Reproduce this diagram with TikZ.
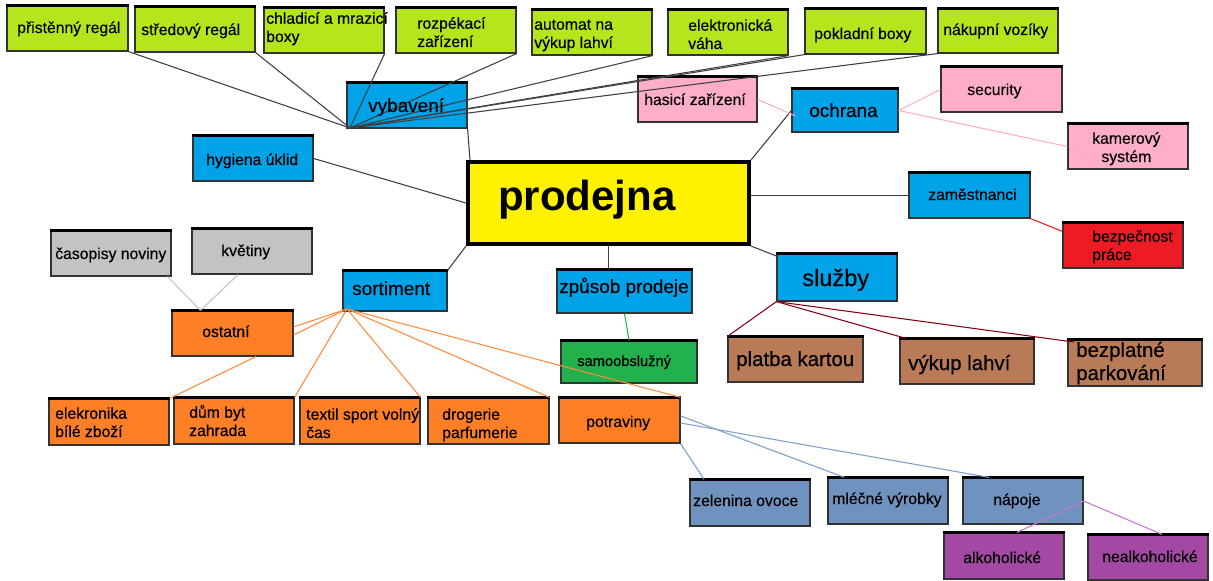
\documentclass[tikz,border=0pt]{standalone}
\usepackage{fontspec}
\setmainfont{Liberation Sans}
\newfontfamily\lf{Liberation Sans}[FakeBold=0.5]
\usetikzlibrary{calc}
\definecolor{cLime}{RGB}{181,230,29}
\definecolor{cBlue}{RGB}{0,162,232}
\definecolor{cYellow}{RGB}{255,242,0}
\definecolor{cPink}{RGB}{255,174,201}
\definecolor{cRed}{RGB}{237,28,36}
\definecolor{cGray}{RGB}{195,195,195}
\definecolor{cOrange}{RGB}{255,127,39}
\definecolor{cGreen}{RGB}{34,177,76}
\definecolor{cBrown}{RGB}{185,122,87}
\definecolor{cSteel}{RGB}{112,146,190}
\definecolor{cPurple}{RGB}{163,73,164}
\definecolor{lMaroon}{RGB}{136,0,21}
\definecolor{lPurple}{RGB}{195,120,205}
\definecolor{lBlue}{RGB}{125,160,205}
\definecolor{lOrange}{RGB}{255,140,60}
\newcommand\boxnode[6]{\node[box,fill=#2,minimum width={(#5-#3)*0.75pt},minimum height={(#6-#4)*0.75pt}] (#1) at ({(#3+#5)/2},{(#4+#6)/2}) {};}
\begin{document}
\begin{tikzpicture}[x=0.75pt,y=-0.75pt,
  box/.style={draw=black!80,line width=0.9pt,inner sep=0pt,rectangle,
    append after command={(\tikzlastnode.north west) edge[draw=black,line width=1.9pt] (\tikzlastnode.north east)}},
  lbl/.style={anchor=base west,inner sep=0pt,align=left,text=black,font=\lf\fontsize{11.8}{13.7}\selectfont},
  big/.style={font=\lf\fontsize{14.2}{17}\selectfont},
  bigger/.style={font=\lf\fontsize{15.3}{17.3}\selectfont},
  con/.style={line width=0.8pt}]
\useasboundingbox (0,0) rectangle (1213,581);
\fill[white] (0,0) rectangle (1213,581);
% top row
\boxnode{p1}{cLime}{7}{6}{128}{51}
\boxnode{p2}{cLime}{135}{7}{255}{52}
\boxnode{p3}{cLime}{264}{8}{384}{53}
\boxnode{p4}{cLime}{396}{8}{516}{53}
\boxnode{p5}{cLime}{532}{10}{652}{55}
\boxnode{p6}{cLime}{668}{10}{788}{55}
\boxnode{p7}{cLime}{805}{9}{926}{54}
\boxnode{p8}{cLime}{938}{9}{1058}{53}
% blue / centre
\boxnode{vyb}{cBlue}{347}{83}{467}{128}
\boxnode{hyg}{cBlue}{193}{136}{313}{181}
\boxnode{och}{cBlue}{792}{89}{898}{132}
\boxnode{zam}{cBlue}{909}{173}{1030}{218}
\boxnode{sor}{cBlue}{343}{271}{447}{311}
\boxnode{zpu}{cBlue}{557}{270}{692}{313}
\boxnode{slu}{cBlue}{777}{254}{897}{301}
\node[draw=black,line width=3pt,fill=cYellow,inner sep=0pt,minimum width={281*0.75pt},minimum height={82*0.75pt}] (prod) at (608.5,203) {};
% pink, red
\boxnode{has}{cPink}{638}{77}{757}{122}
\boxnode{sec}{cPink}{941}{67}{1062}{112}
\boxnode{kam}{cPink}{1068}{124}{1188}{169}
\boxnode{bez}{cRed}{1063}{223}{1183}{268}
% gray
\boxnode{cas}{cGray}{51}{231}{171}{276}
\boxnode{kve}{cGray}{192}{229}{312}{274}
% orange
\boxnode{ost}{cOrange}{172}{311}{293}{356}
\boxnode{ele}{cOrange}{49}{399}{169}{445}
\boxnode{dum}{cOrange}{174}{398}{294}{444}
\boxnode{tex}{cOrange}{300}{398}{420}{444}
\boxnode{dro}{cOrange}{428}{398}{549}{444}
\boxnode{pot}{cOrange}{559}{398}{680}{443}
% green, brown
\boxnode{sam}{cGreen}{561}{341}{697}{383}
\boxnode{pla}{cBrown}{728}{337}{863}{382}
\boxnode{vyk}{cBrown}{900}{339}{1034}{384}
\boxnode{bpk}{cBrown}{1068}{340}{1202}{386}
% steel, purple
\boxnode{zel}{cSteel}{690}{480}{810}{526}
\boxnode{mle}{cSteel}{828}{478}{948}{524}
\boxnode{nap}{cSteel}{963}{478}{1083}{524}
\boxnode{alk}{cPurple}{944}{533}{1064}{579}
\boxnode{nea}{cPurple}{1088}{535}{1208}{580}
% hubs
\coordinate (vhub) at (350,128);
\coordinate (shub) at (347,309);
% connectors: vybaveni
\begin{scope}[con,draw=black!75]
\draw (vhub) -- (p1.south east);
\draw (vhub) -- (p2.south east);
\draw (vhub) -- (p3.south east);
\draw (vhub) -- (p4.south east);
\draw (vhub) -- (p5.south east);
\draw (vhub) -- (p6.south east);
\draw (vhub) -- (p7.south west);
\draw (vhub) -- (p8.south west);
\draw (vyb.south east) -- ([xshift=3pt]prod.north west);
\draw (hyg.east) -- (prod.west);
\draw (prod.north east) -- (och.west);
\draw (prod.east |- zam.west) -- (zam.west);
\draw (prod.south east) -- ([yshift=-2pt]slu.north west);
\draw (prod.south) -- (prod.south |- zpu.north);
\draw (prod.south west) -- (sor.north east);
\end{scope}
\draw[con,cPink] (has.east) -- ([xshift=3pt,yshift=-4pt]och.west);
\draw[con,cPink] (och.east) -- (sec.west);
\draw[con,cPink] (och.east) -- (kam.west);
\draw[con,cRed] (zam.south east) -- ([yshift=-6.75pt]bez.north west);
\draw[con,cGreen] (zpu.south) -- (sam.north);
\draw[con,lMaroon] (slu.south west) -- (pla.north west);
\draw[con,lMaroon] (slu.south west) -- ([xshift=5pt]vyk.north west);
\draw[con,lMaroon] (slu.south west) -- ([xshift=5pt,yshift=-2pt]bpk.north west);
% orange
\draw[con,lOrange] (shub) -- ([yshift=4.9pt]ost.east);
\draw[con,lOrange] (shub) -- ([yshift=-1.1pt]ost.east);
\draw[con,lOrange] ([xshift=17.6pt]ost.south) -- (ele.north east);
\draw[con,lOrange] (shub) -- (dum.north east);
\draw[con,lOrange] (shub) -- (tex.north east);
\draw[con,lOrange] (shub) -- (dro.north east);
\draw[con,lOrange] (shub) -- (pot.north east);
% gray
\draw[con,cGray] ([xshift=-3pt]cas.south east) -- ([xshift=-24pt]ost.north);
\draw[con,cGray] ([xshift=-10.5pt]kve.south) -- ([xshift=-24pt]ost.north);
% blue
\draw[con,lBlue] (pot.south east) -- ([xshift=11pt]zel.north west);
\draw[con,lBlue] ([yshift=3.4pt]pot.east) -- ([xshift=12.75pt]mle.north west);
\draw[con,lBlue] ([yshift=-1.9pt]pot.east) -- ([xshift=20pt]nap.north west);
% purple
\draw[con,lPurple] (nap.east) -- ([xshift=9.75pt]alk.north);
\draw[con,lPurple] (nap.east) -- ([xshift=10.5pt]nea.north);
% labels (multi-line: anchored at the baseline of the last line)
\node[lbl] (t1) at (17,33) {přistěnný regál};
\node[lbl] (t2) at (141,35) {středový regál};
\node[lbl] (t3) at (266,42) {chladicí a mrazicí\\boxy};
\node[lbl] (t4) at (417,47) {rozpékací\\zařízení};
\node[lbl] (t5) at (534,48) {automat na\\výkup lahví};
\node[lbl] (t6) at (688,49) {elektronická\\váha};
\node[lbl] (t7) at (814,39) {pokladní boxy};
\node[lbl] (t8) at (943,35) {nákupní vozíky};
\node[lbl,big] (tvyb) at (368,112) {vybavení};
\node[lbl] (thyg) at (206,165) {hygiena úklid};
\node[lbl] (thas) at (644,105) {hasicí zařízení};
\node[lbl,big] (toch) at (809,117) {ochrana};
\node[lbl] (tsec) at (967,95) {security};
\node[lbl,align=center] (tkam) at (1092,162) {kamerový\\systém};
\node[lbl] (tzam) at (928,200) {zaměstnanci};
\node[lbl] (tbez) at (1092,260) {bezpečnost\\práce};
\node[lbl,font=\fontsize{31.5}{36}\bfseries] (tprod) at (498,210) {prodejna};
\node[lbl] (tcas) at (55,259) {časopisy noviny};
\node[lbl] (tkve) at (221,256) {květiny};
\node[lbl,big] (tsor) at (352,295) {sortiment};
\node[lbl] (tost) at (202,337) {ostatní};
\node[lbl,big] (tzpu) at (559,293) {způsob prodeje};
\node[lbl,font=\lf\fontsize{11}{13}\selectfont] (tsam) at (577,366) {samoobslužný};
\node[lbl,font=\lf\fontsize{17.7}{20}\selectfont] (tslu) at (802,286) {služby};
\node[lbl,bigger] (tpla) at (736,366) {platba kartou};
\node[lbl,bigger] (tvyk) at (908,370) {výkup lahví};
\node[lbl,bigger] (tbpk) at (1076,380) {bezplatné\\parkování};
\node[lbl] (tele) at (55,437) {elekronika\\bílé zboží};
\node[lbl] (tdum) at (189,436) {dům byt\\zahrada};
\node[lbl] (ttex) at (306,438) {textil sport volný\\čas};
\node[lbl] (tdro) at (442,438) {drogerie\\parfumerie};
\node[lbl] (tpot) at (586,427) {potraviny};
\node[lbl] (tzel) at (693,506) {zelenina ovoce};
\node[lbl] (tmle) at (832,504) {mléčné výrobky};
\node[lbl] (tnap) at (993,505) {nápoje};
\node[lbl] (talk) at (963,563) {alkoholické};
\node[lbl] (tnea) at (1102,562) {nealkoholické};
\end{tikzpicture}
\end{document}
